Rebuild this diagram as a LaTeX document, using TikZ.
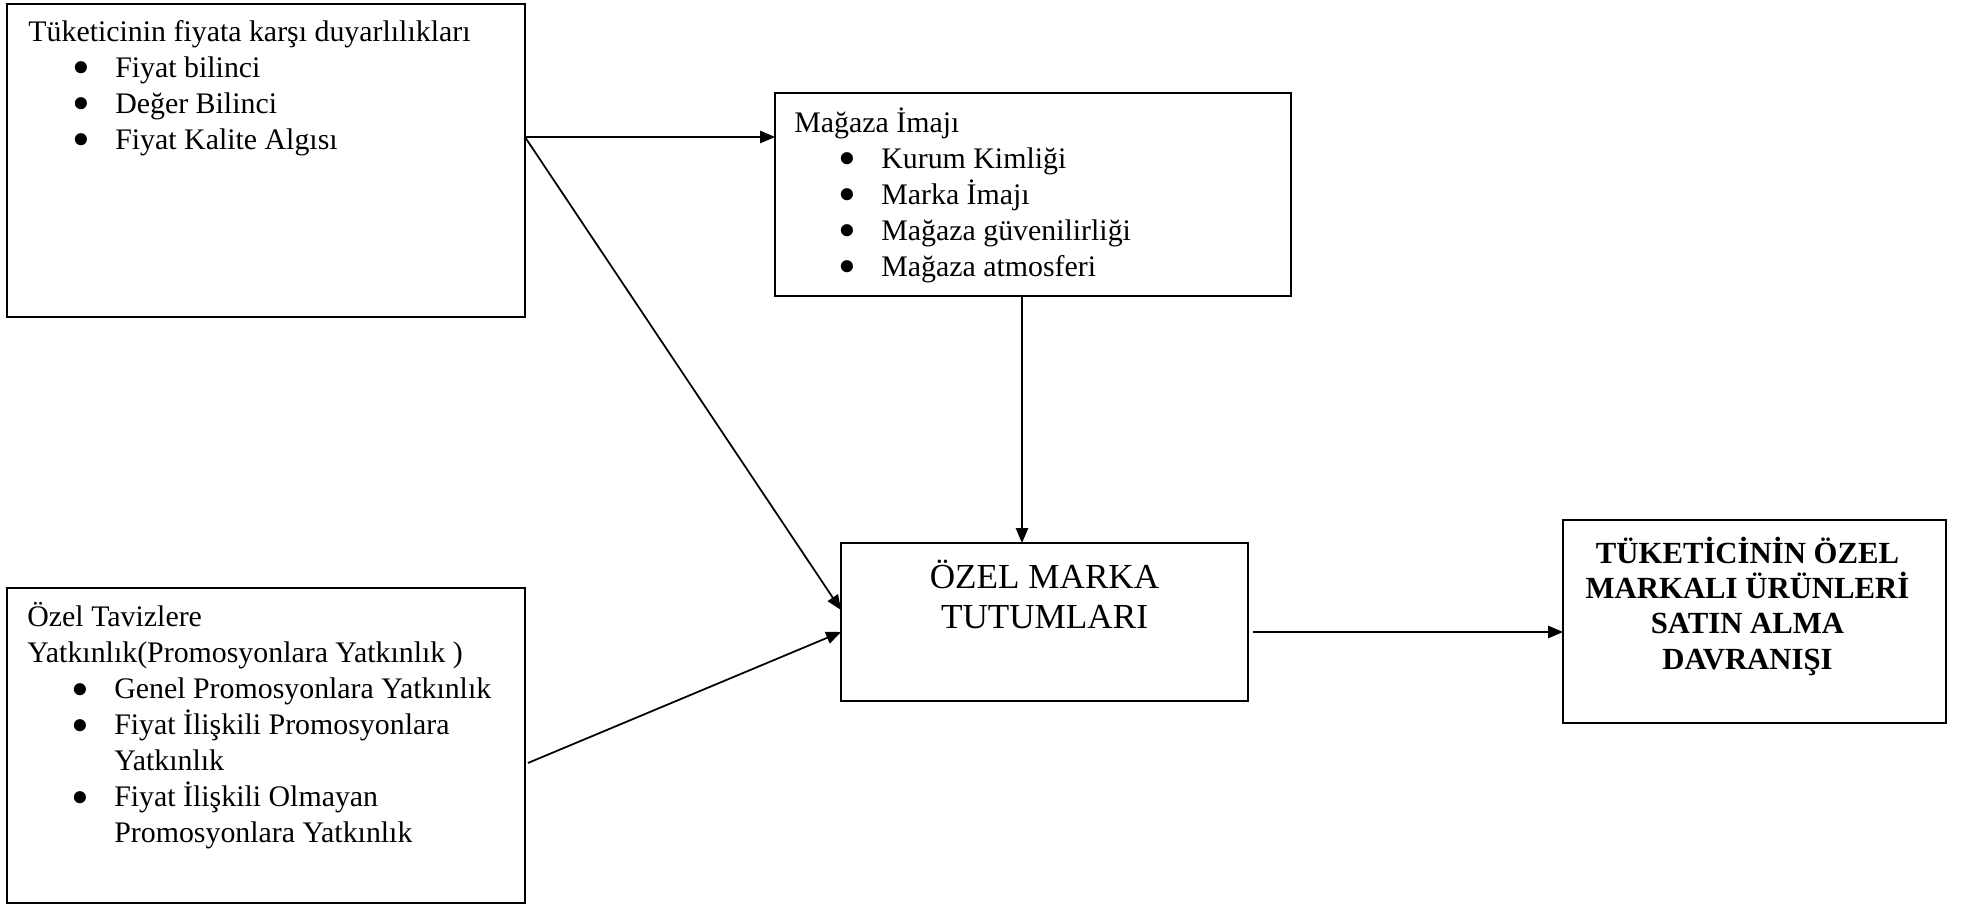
\documentclass[tikz,border=0pt]{standalone}
\usepackage{fontspec}
\usepackage{graphicx}
\setmainfont{Liberation Serif}
\usetikzlibrary{arrows.meta}

\newcommand{\blt}{\hspace*{1.47em}\makebox[1.44em][l]{\smash{\raisebox{-0.25em}{\scalebox{1.7}{\textbullet}}}}}
\newcommand{\cnt}{\hspace*{2.91em}}

\begin{document}
\begin{tikzpicture}[x=0.02cm, y=-0.02cm,
  kutu/.style={draw, line width=1pt, inner sep=0pt, outer sep=0pt},
  yazi/.style={inner sep=0pt, align=left, anchor=north west, font=\fontsize{17}{20.5}\selectfont},
  ok/.style={line width=1pt, -{Triangle[length=8.5pt, width=7pt]}}]
\useasboundingbox (0,0) rectangle (1975,905);

% boxes
\node[kutu, minimum width=10.36cm, minimum height=6.26cm] (tuk) at (266,160.5) {};
\node[kutu, minimum width=10.32cm, minimum height=4.06cm] (magaza) at (1033,194.5) {};
\node[kutu, minimum width=10.36cm, minimum height=6.30cm] (taviz) at (266,745.5) {};
\node[kutu, minimum width=8.14cm, minimum height=3.16cm] (ozel) at (1044.5,622) {};
\node[kutu, minimum width=7.66cm, minimum height=4.06cm] (davranis) at (1754.5,621.5) {};

% texts
\node[yazi] (tuktxt) at ([shift={(0.42cm,-0.32cm)}]tuk.north west)
  {Tüketicinin fiyata karşı duyarlılıkları\\
   \blt Fiyat bilinci\\
   \blt Değer Bilinci\\
   \blt Fiyat Kalite Algısı};
\node[yazi] (magazatxt) at ([shift={(0.38cm,-0.28cm)}]magaza.north west)
  {Mağaza İmajı\\
   \blt Kurum Kimliği\\
   \blt Marka İmajı\\
   \blt Mağaza güvenilirliği\\
   \blt Mağaza atmosferi};
\node[yazi] (taviztxt) at ([shift={(0.40cm,-0.28cm)}]taviz.north west)
  {Özel Tavizlere\\
   Yatkınlık(Promosyonlara Yatkınlık )\\
   \blt Genel Promosyonlara Yatkınlık\\
   \blt Fiyat İlişkili Promosyonlara\\
   \cnt Yatkınlık\\
   \blt Fiyat İlişkili Olmayan\\
   \cnt Promosyonlara Yatkınlık};
\node[inner sep=0pt, align=center, anchor=north, font=\fontsize{20}{22.5}\selectfont]
  (ozeltxt) at ([yshift=-0.34cm]ozel.north) {ÖZEL MARKA\\TUTUMLARI};
\node[inner sep=0pt, align=center, anchor=north, font=\fontsize{17.5}{20}\selectfont\bfseries]
  (davranistxt) at ([shift={(-0.14cm,-0.34cm)}]davranis.north)
  {TÜKETİCİNİN ÖZEL\\MARKALI ÜRÜNLERİ\\SATIN ALMA\\DAVRANIŞI};

% arrows
\coordinate (split) at ([yshift=0.47cm]tuk.east);
\draw[ok] (split) -- (split -| magaza.west);
\draw[ok] (split) -- ([yshift=0.24cm]ozel.west);
\draw[ok] ([shift={(0.06cm,-0.35cm)}]taviz.east) -- ([yshift=-0.2cm]ozel.west);
\draw[ok] ([xshift=-0.22cm]magaza.south) -- ([xshift=-0.22cm]magaza.south |- ozel.north);
\coordinate (cikis) at ([shift={(0.1cm,-0.2cm)}]ozel.east);
\draw[ok] (cikis) -- (cikis -| davranis.west);
\end{tikzpicture}
\end{document}
